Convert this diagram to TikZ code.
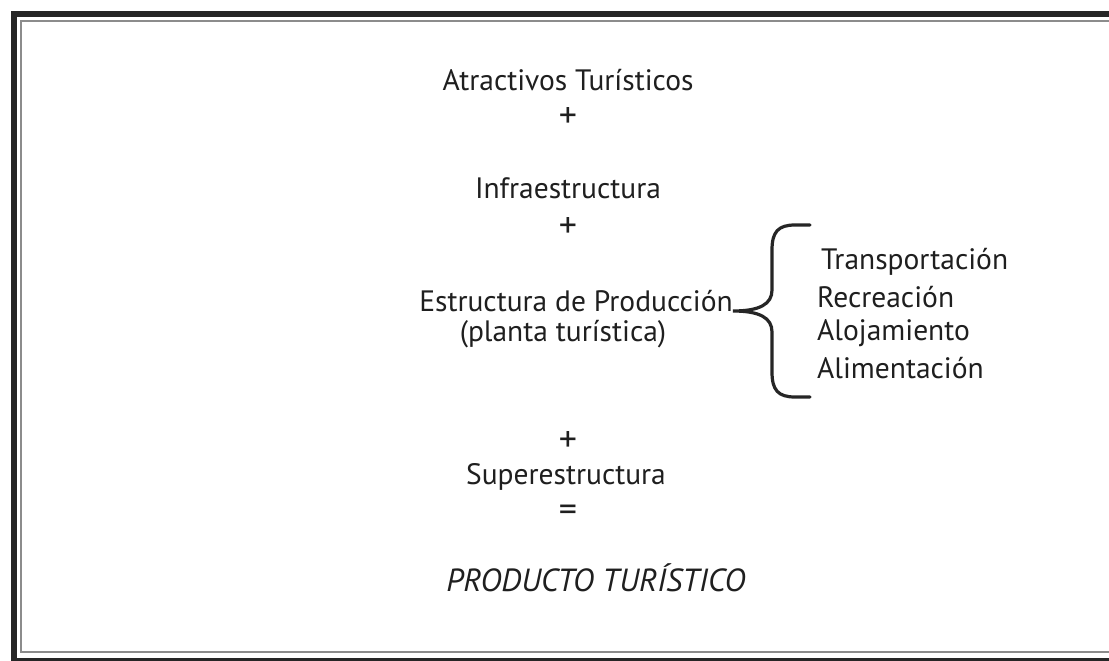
\documentclass[tikz,border=0pt]{standalone}
\usepackage{fontspec}
\setmainfont{PT Sans}
\usepackage{tikz}
\usetikzlibrary{positioning}

\begin{document}
\begin{tikzpicture}[x=1pt,y=-1pt,
      txt/.style={font=\fontsize{29.5}{32}\selectfont, text=black!88, inner sep=0pt},
      op/.style={font=\fontsize{36}{38}\selectfont, text=black!88, inner sep=0pt},
      item/.style={txt, anchor=west},
      big/.style={font=\fontsize{32}{36}\selectfont\itshape, text=black!88, inner sep=0pt}
    ]
    \clip (0,0) rectangle (1109,661);
    \fill[white] (0,0) rectangle (1109,661);
    % frame
    \draw[line width=6pt, black!85] (14,14) rectangle (1130,661);
    \draw[line width=1.2pt, black!45] (21,21) rectangle (1120,652);
    % column
    \node[txt] (atr) at (568,80) {Atractivos Turísticos};
    \node[op] (p1) at (568,118) {+};
    \node[txt] (inf) at (568,188) {Infraestructura};
    \node[op] (p2) at (568,228) {+};
    \node[txt, anchor=base east] (est) at (733,311) {Estructura de Producción};
    \node[txt] (pla) at (563,334) {(planta turística)};
    \node[op] (p3) at (568,442) {+};
    \node[txt] (sup) at (566,477) {Superestructura};
    \node[op] (eq) at (568,513) {=};
    \node[big] (prod) at (596,578) {PRODUCTO TURÍSTICO};
    % list
    \node[item] (tra) at (821,262) {Transportación};
    \node[item] (rec) at (817,297) {Recreación};
    \node[item] (alo) at (817,333) {Alojamiento};
    \node[item] (ali) at (817,368) {Alimentación};
    % brace
    \coordinate (tip) at (est.base east);
    \draw[line width=3.2pt, black!85, line cap=round]
      (810,225) -- (795,225) .. controls (778,225) and (772,232) .. (772,250)
      -- (772,290) .. controls (772,304) and (760,311) .. (tip)
      .. controls (760,311) and (772,318) .. (772,332)
      -- (772,372) .. controls (772,390) and (778,397) .. (795,397) -- (810,397);
  \end{tikzpicture}
\end{document}
